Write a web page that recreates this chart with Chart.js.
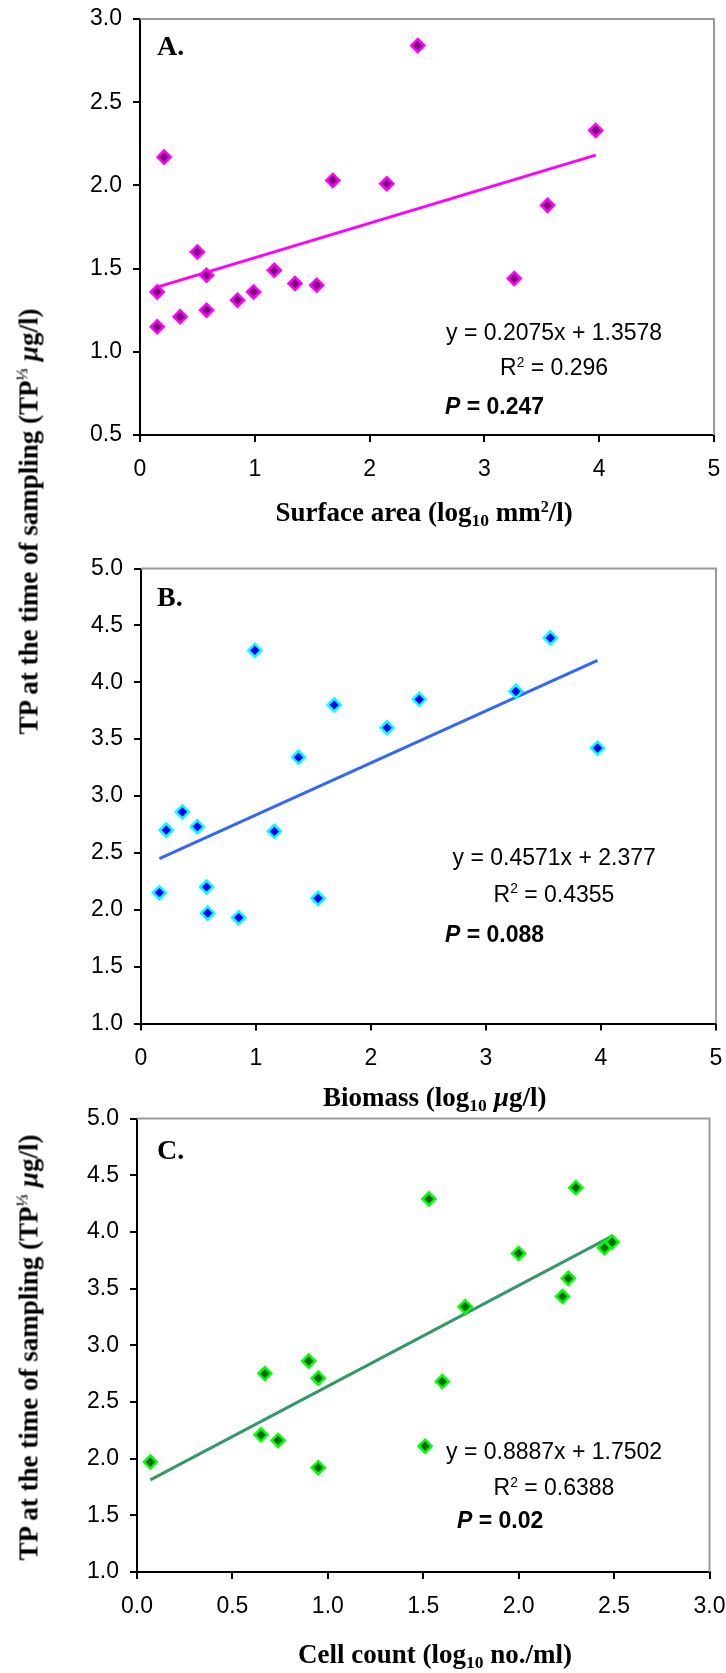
<!DOCTYPE html>
<html><head><meta charset="utf-8">
<script src="https://cdn.jsdelivr.net/npm/chart.js@4.4.1/dist/chart.umd.min.js"></script>
<style>
html,body{margin:0;padding:0;background:#fff;}
#page{position:relative;width:726px;height:1673px;overflow:hidden;background:#fff;}
canvas{position:absolute;left:0;}
.t{position:absolute;white-space:nowrap;color:#000;line-height:1;}
.serif{font-family:"Liberation Serif","Times New Roman",serif;font-weight:bold;}
.sans{font-family:"Liberation Sans",Arial,sans-serif;}
.sup{position:relative;font-size:0.6em;top:-0.6em;}
.sub{position:relative;font-size:0.65em;top:0.25em;}
</style></head>
<body><div id="page">
<canvas id="cA" width="726" height="545" style="top:0px"></canvas>
<canvas id="cB" width="726" height="545" style="top:530px"></canvas>
<canvas id="cC" width="726" height="583" style="top:1090px"></canvas>
</div>
<script>
// ---------- data ----------
const surfaceArea = [0.15, 0.15, 0.21, 0.35, 0.50, 0.58, 0.58, 0.85, 0.99, 1.17, 1.35, 1.54, 1.68, 2.15, 2.42, 3.26, 3.55, 3.97];
const tpCubeRootA = [1.36, 1.15, 2.17, 1.21, 1.60, 1.46, 1.25, 1.31, 1.36, 1.49, 1.41, 1.40, 2.03, 2.01, 2.84, 1.44, 1.88, 2.33];

const biomass = [0.16, 0.22, 0.36, 0.49, 0.57, 0.58, 0.85, 0.99, 1.16, 1.37, 1.54, 1.68, 2.14, 2.42, 3.26, 3.56, 3.97];
const tpB = [2.15, 2.70, 2.86, 2.73, 2.20, 1.97, 1.93, 4.28, 2.69, 3.34, 2.10, 3.80, 3.60, 3.85, 3.92, 4.39, 3.42];

const cellCount = [0.07, 0.65, 0.67, 0.74, 0.90, 0.95, 0.95, 1.51, 1.53, 1.60, 1.72, 2.00, 2.23, 2.26, 2.30, 2.45, 2.49];
const tpC = [1.97, 2.21, 2.75, 2.16, 2.86, 2.71, 1.92, 2.11, 4.29, 2.68, 3.34, 3.81, 3.43, 3.59, 4.39, 3.86, 3.91];

// trend lines (slope, intercept) as printed on the chart
const trendA = [0.2075, 1.3578];
const trendB = [0.4571, 2.377];
const trendC = [0.8887, 1.7502];

// tick values
const xTicksAB = [0, 1, 2, 3, 4, 5];
const xTicksC = [0, 0.5, 1.0, 1.5, 2.0, 2.5, 3.0];
const yTicksA = [0.5, 1.0, 1.5, 2.0, 2.5, 3.0];
const yTicksBC = [1.0, 1.5, 2.0, 2.5, 3.0, 3.5, 4.0, 4.5, 5.0];

// texts
const yTitle = 'TP at the time of sampling (TP<span class="sup">&#8531;</span> <i>&micro;</i>g/l)';
const xTitleA = 'Surface area (log<span class="sub">10</span> mm<span class="sup">2</span>/l)';
const xTitleB = 'Biomass (log<span class="sub">10</span> <i>&micro;</i>g/l)';
const xTitleC = 'Cell count (log<span class="sub">10</span> no./ml)';
const eqA = ['y = 0.2075x + 1.3578', 'R<span class="sup">2</span> = 0.296', '<b><i>P</i> = 0.247</b>'];
const eqB = ['y = 0.4571x + 2.377', 'R<span class="sup">2</span> = 0.4355', '<b><i>P</i> = 0.088</b>'];
const eqC = ['y = 0.8887x + 1.7502', 'R<span class="sup">2</span> = 0.6388', '<b><i>P</i> = 0.02</b>'];
const panelLabels = ['A.', 'B.', 'C.'];

// ---------- charts ----------
Chart.defaults.color = '#000';
Chart.defaults.font.family = '"Liberation Sans", Arial, sans-serif';
Chart.defaults.font.size = 23;

const W = 726;
const grayBorder = {
  id: 'grayBorder',
  beforeDatasetsDraw(chart) {
    const a = chart.chartArea, ctx = chart.ctx;
    ctx.save();
    ctx.strokeStyle = '#9a9a9a';
    ctx.lineWidth = 2;
    ctx.beginPath();
    ctx.moveTo(a.left, a.top);
    ctx.lineTo(a.right, a.top);
    ctx.lineTo(a.right, a.bottom);
    ctx.stroke();
    ctx.restore();
  }
};

function makePanel(id, H, area, xs, ys, trend, fill, edge, lineColor, xTicks, yTicks, xDec) {
  const x0 = Math.min(...xs), x1 = Math.max(...xs);
  const pts = xs.map((x, i) => ({x: x, y: ys[i]}));
  const line = [{x: x0, y: trend[0] * x0 + trend[1]}, {x: x1, y: trend[0] * x1 + trend[1]}];
  return new Chart(document.getElementById(id), {
    type: 'scatter',
    data: {datasets: [
      {data: pts, pointStyle: 'rectRot', pointRadius: 6.5, pointHoverRadius: 6.5,
       backgroundColor: fill, borderColor: edge, borderWidth: 2.5, order: 0},
      {data: line, showLine: true, borderColor: lineColor, borderWidth: 3,
       pointRadius: 0, pointHoverRadius: 0, order: 1}
    ]},
    options: {
      responsive: false, animation: false, events: [],
      plugins: {legend: {display: false}, tooltip: {enabled: false}},
      layout: {padding: {left: 0, top: area.top, right: W - area.right, bottom: 0}},
      scales: {
        x: {
          type: 'linear', min: xTicks[0], max: xTicks[xTicks.length - 1],
          afterBuildTicks: s => { s.ticks = xTicks.map(v => ({value: v})); },
          afterFit: s => { s.height = H - area.bottom; s.paddingLeft = 0; s.paddingRight = 0; },
          ticks: {padding: 14, maxRotation: 0, autoSkip: false,
                  callback: v => xDec ? Number(v).toFixed(1) : String(v)},
          grid: {drawOnChartArea: false, drawTicks: true, tickLength: 7, color: '#000', lineWidth: 2},
          border: {display: true, color: '#000', width: 2}
        },
        y: {
          type: 'linear', min: yTicks[0], max: yTicks[yTicks.length - 1],
          afterBuildTicks: s => { s.ticks = yTicks.map(v => ({value: v})); },
          afterFit: s => { s.width = area.left; s.paddingTop = 0; s.paddingBottom = 0; },
          ticks: {padding: 11, autoSkip: false, callback: v => Number(v).toFixed(1)},
          grid: {drawOnChartArea: false, drawTicks: true, tickLength: 7, color: '#000', lineWidth: 2},
          border: {display: true, color: '#000', width: 2}
        }
      }
    },
    plugins: [grayBorder]
  });
}

// canvas A: page y 0..545 ; canvas B: page y 530..1075 ; canvas C: page y 1090..1673
makePanel('cA', 545, {left: 140, right: 714, top: 19, bottom: 435},
  surfaceArea, tpCubeRootA, trendA, '#800080', '#ff00ff', '#ff00ff', xTicksAB, yTicksA, false);
makePanel('cB', 545, {left: 141, right: 716, top: 38.5, bottom: 493.5},
  biomass, tpB, trendB, '#0000ff', '#00ffff', '#3366ff', xTicksAB, yTicksBC, false);
makePanel('cC', 583, {left: 137, right: 709.5, top: 28.5, bottom: 482},
  cellCount, tpC, trendC, '#006a00', '#00ff00', '#339966', xTicksC, yTicksBC, true);

// ---------- text ----------
const page = document.getElementById('page');
function place(html, cls, size, x, base, align, rotate) {
  const d = document.createElement('div');
  d.className = 't ' + cls;
  d.style.fontSize = size + 'px';
  d.innerHTML = html;
  page.appendChild(d);
  const w = d.offsetWidth, h = d.offsetHeight;
  const k = cls.indexOf('serif') >= 0 ? 0.8375 : 0.8465;
  if (!rotate) {
    const left = align === 'center' ? x - w / 2 : (align === 'right' ? x - w : x);
    d.style.left = left + 'px';
    d.style.top = (base - k * size) + 'px';
  } else {
    const cx = x - (k - 0.5) * size;
    d.style.left = (cx - w / 2) + 'px';
    d.style.top = (base - h / 2) + 'px';
    d.style.transform = 'rotate(-90deg)';
  }
}
// y axis titles
place(yTitle, 'serif', 27, 38, 521, 'center', true);
place(yTitle, 'serif', 27, 38, 1347, 'center', true);
// x axis titles
place(xTitleA, 'serif', 27, 424, 522, 'center');
place(xTitleB, 'serif', 27, 435, 1107, 'center');
place(xTitleC, 'serif', 27, 435, 1664, 'center');
// panel labels
place(panelLabels[0], 'serif', 28, 157, 55, 'left');
place(panelLabels[1], 'serif', 28, 157, 606, 'left');
place(panelLabels[2], 'serif', 28, 157, 1159, 'left');
// equations
function eq(lines, base, pLeft) {
  place(lines[0], 'sans', 23, 554, base[0], 'center');
  place(lines[1], 'sans', 23, 554, base[1], 'center');
  place(lines[2], 'sans', 23, pLeft, base[2], 'left');
}
eq(eqA, [340, 375.5, 414], 445);
eq(eqB, [865.5, 902, 942], 445);
eq(eqC, [1459.5, 1495.5, 1528], 457);
</script>
</body></html>
